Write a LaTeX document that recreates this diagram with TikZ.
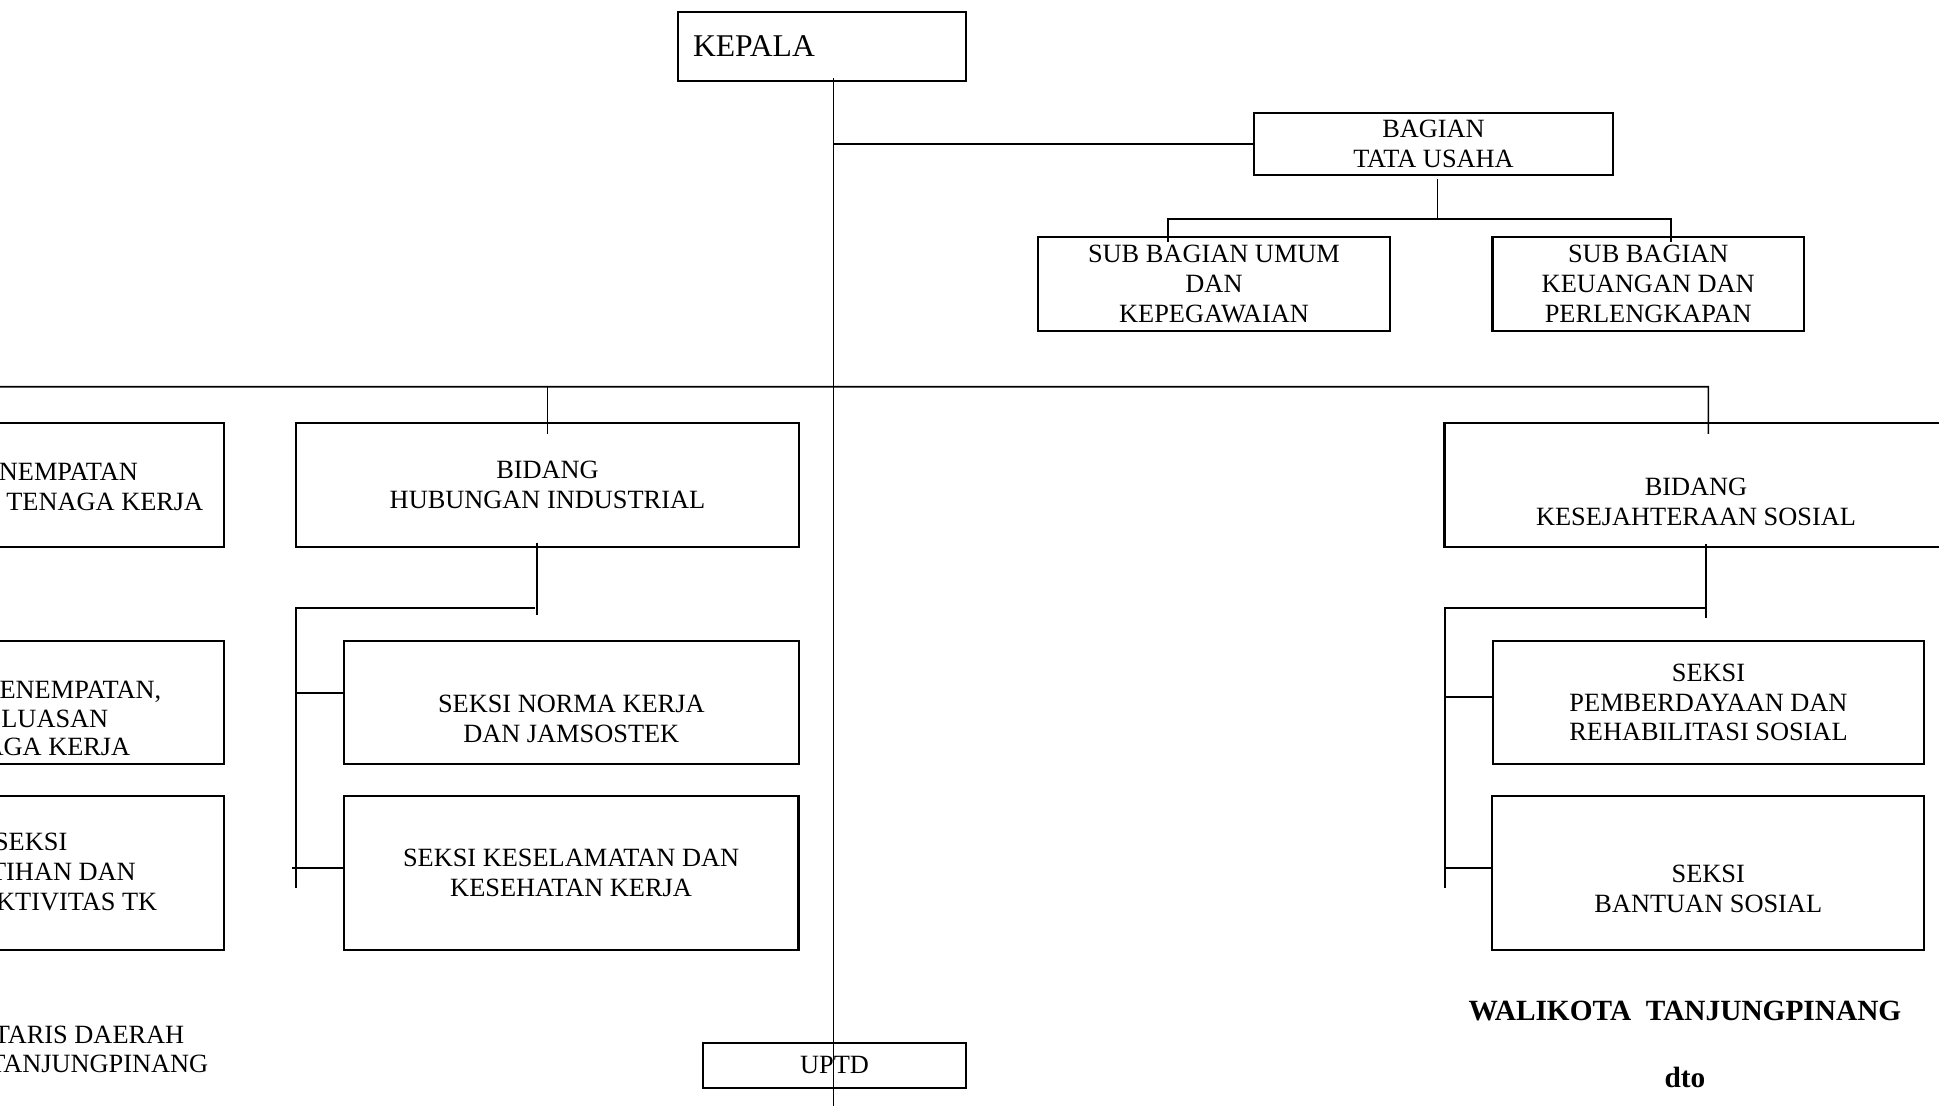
\documentclass[tikz,border=0pt]{standalone}
\usepackage{fontspec}
\setmainfont{Liberation Serif}
\newcommand{\hurufisi}{\fontsize{7.5}{8.5}\selectfont}
\newcommand{\hurufkepala}{\fontsize{9}{10}\selectfont}
\newcommand{\hurufttd}{\fontsize{8.35}{10}\selectfont\bfseries}
\tikzset{
    kotak/.style={draw,line width=0.6pt,inner sep=0pt,align=center,font=\hurufisi},
    teks/.style={inner sep=0pt,align=center,font=\hurufisi},
    garis/.style={line width=0.45pt}
}
\begin{document}
\begin{tikzpicture}
        \useasboundingbox (0,0) rectangle (19.39,-11.05);
        \clip (0,0) rectangle (19.39,-11.05);
        \node[kotak,minimum height=0.69cm,text width=2.58cm,inner xsep=0.15cm,align=left,font=\hurufkepala] (kepala) at (8.22,-0.465) {KEPALA};
        \node[kotak,minimum width=3.59cm,minimum height=0.62cm] (tu) at (14.335,-1.44) {BAGIAN\\TATA USAHA};
        \node[kotak,minimum width=3.52cm,minimum height=0.94cm] (subumum) at (12.14,-2.836) {SUB BAGIAN UMUM\\DAN\\KEPEGAWAIAN};
        \node[kotak,minimum width=3.115cm,minimum height=0.94cm] (subkeu) at (16.4825,-2.836) {SUB BAGIAN\\KEUANGAN DAN\\PERLENGKAPAN};
        \node[kotak,minimum width=5.04cm,minimum height=1.233cm] (kiri1) at (-0.28,-4.85) {};
        \node[kotak,minimum width=5.03cm,minimum height=1.233cm] (hub) at (5.475,-4.85) {BIDANG\\HUBUNGAN INDUSTRIAL};
        \node[kotak,minimum width=5.03cm,minimum height=1.233cm] (kesos) at (16.96,-4.85) {};
        \node[teks] (kesosTeks) at ([yshift=-1.7mm]kesos.center) {BIDANG\\KESEJAHTERAAN SOSIAL};
        \node[kotak,minimum width=4.54cm,minimum height=1.23cm] (kiri2) at (-0.03,-7.025) {};
        \node[kotak,minimum width=4.554cm,minimum height=1.23cm] (norma) at (5.713,-7.025) {};
        \node[teks] (normaTeks) at ([yshift=-1.6mm]norma.center) {SEKSI NORMA KERJA\\DAN JAMSOSTEK};
        \node[kotak,minimum width=4.314cm,minimum height=1.23cm] (pemb) at (17.085,-7.025) {SEKSI\\PEMBERDAYAAN DAN\\REHABILITASI SOSIAL};
        \node[kotak,minimum width=4.54cm,minimum height=1.543cm] (kiri3) at (-0.03,-8.73) {};
        \node[kotak,minimum width=4.548cm,minimum height=1.543cm] (k3) at (5.711,-8.73) {SEKSI KESELAMATAN DAN\\KESEHATAN KERJA};
        \node[kotak,minimum width=4.32cm,minimum height=1.543cm] (bantuan) at (17.083,-8.73) {};
        \node[teks] (bantuanTeks) at ([yshift=-1.6mm]bantuan.center) {SEKSI\\BANTUAN SOSIAL};
        \node[kotak,minimum width=2.634cm,minimum height=0.45cm] (uptd) at (8.345,-10.652) {UPTD};
        \foreach \ujung/\dasar/\kata [count=\i] in {1.386/4.80/NEMPATAN,2.04/5.10/TENAGA KERJA,1.62/6.98/{ENEMPATAN,},1.09/7.27/LUASAN,1.31/7.55/AGA KERJA,0.68/8.50/SEKSI,1.365/8.80/TIHAN DAN,1.58/9.10/KTIVITAS TK,1.85/10.43/TARIS DAERAH,2.09/10.72/TANJUNGPINANG}
            \node[teks,anchor=base east] (potong\i) at (\ujung,-\dasar) {\kata};
        \node[inner sep=0pt,anchor=base,font=\hurufttd] (walikota) at (16.85,-10.20) {WALIKOTA\ \ TANJUNGPINANG};
        \node[inner sep=0pt,anchor=base,font=\hurufttd] (dto) at (16.85,-10.87) {dto};
        \coordinate (batang) at (8.335,-0.78);
        \coordinate (dasar) at (8.335,-11.2);
        \coordinate (ujungKiri) at (-0.5,-3.867);
        \coordinate (ujungKanan) at (17.084,-3.867);
        \draw[garis] (batang) -- (dasar);
        \draw[garis] (batang |- tu.west) -- (tu.west);
        \draw[garis] ([xshift=0.4mm,yshift=-0.3mm]tu.south) -- ++(0,-0.397) coordinate (cabTU);
        \draw[garis] ([xshift=-4.63mm,yshift=-0.65mm]subumum.north) |- (cabTU) -| ([xshift=2.27mm,yshift=-0.65mm]subkeu.north);
        \draw[garis] (ujungKiri) -- (ujungKanan) -- ([xshift=1.24mm,yshift=-1.15mm]kesos.north);
        \draw[garis] (hub.north |- ujungKiri) -- ([yshift=-1.15mm]hub.north);
        \draw[garis] ([xshift=-1.05mm,yshift=0.5mm]hub.south) -- ++(0,-0.726);
        \draw[garis] ([xshift=-1.3mm,yshift=-6mm]hub.south) -- ++(-2.385,0) -- ++(0,-2.8);
        \draw[garis] ([yshift=0.95mm]norma.west) -- ++(-0.46,0);
        \draw[garis] ([yshift=0.53mm]k3.west) -- ++(-0.51,0);
        \draw[garis] ([xshift=1mm,yshift=0.35mm]kesos.south) -- ++(0,-0.737);
        \draw[garis] ([xshift=1mm,yshift=-6mm]kesos.south) -- ++(-2.613,0) -- ++(0,-2.806);
        \draw[garis] ([yshift=0.58mm]pemb.west) -- ++(-0.48,0);
        \draw[garis] ([yshift=0.53mm]bantuan.west) -- ++(-0.476,0);
    \end{tikzpicture}
\end{document}
